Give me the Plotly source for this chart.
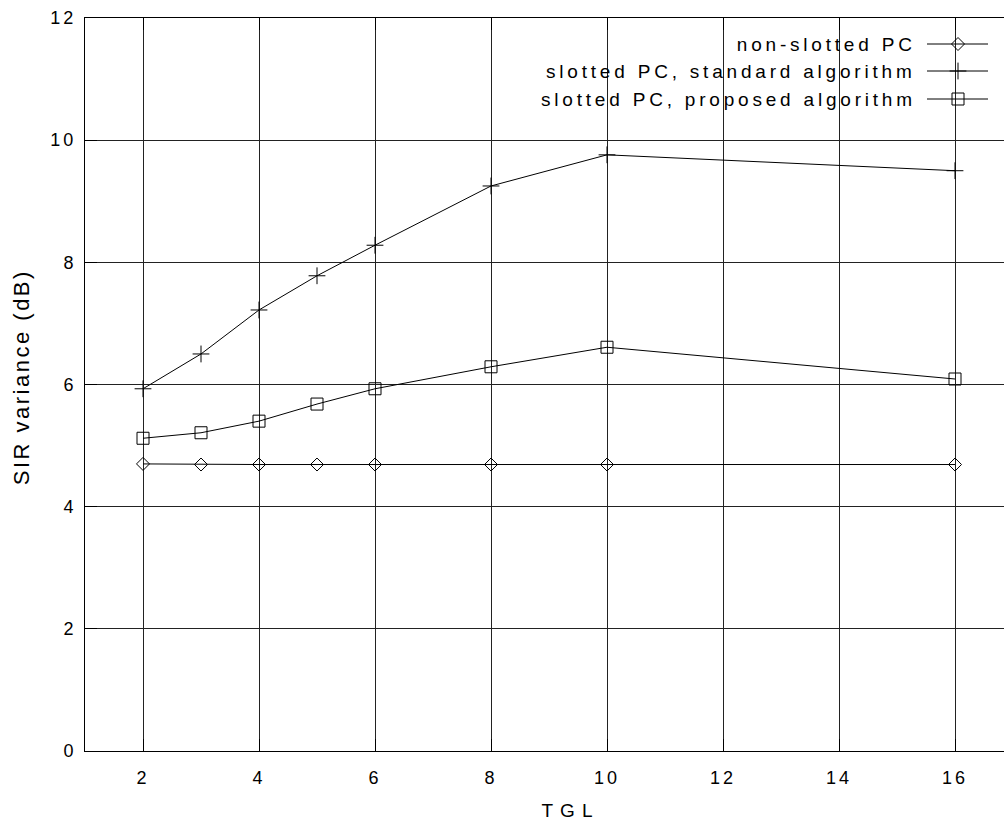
import plotly.graph_objects as go

# ---------------- data ----------------
tgl = [2, 3, 4, 5, 6, 8, 10, 16]
non_slotted = [4.70, 4.69, 4.69, 4.69, 4.69, 4.69, 4.69, 4.69]
standard_alg = [5.93, 6.50, 7.22, 7.78, 8.28, 9.25, 9.76, 9.50]
proposed_alg = [5.12, 5.21, 5.40, 5.68, 5.93, 6.29, 6.61, 6.09]

series_names = [
    "non-slotted PC",
    "slotted PC, standard algorithm",
    "slotted PC, proposed algorithm",
]
series_symbols = ["diamond-open", "cross-thin-open", "square-open"]
series_sizes = [10, 12, 12]

x_ticks = [2, 4, 6, 8, 10, 12, 14, 16]
y_ticks = [0, 2, 4, 6, 8, 10, 12]
x_title = "TGL"
y_title = "SIR variance (dB)"

# ---------------- layout constants (pixels) ----------------
W, H = 1004, 821
L, R, T, B = 85, 0, 18, 70
FONT = "Liberation Sans, Arial, Helvetica, sans-serif"
GRID = "#222222"

fig = go.Figure()

series_values = [non_slotted, standard_alg, proposed_alg]
for name, vals, sym, sz in zip(series_names, series_values, series_symbols, series_sizes):
    fig.add_trace(go.Scatter(
        x=tgl, y=vals, mode="lines+markers", name=name,
        line=dict(color="black", width=1),
        marker=dict(symbol=sym, size=sz, color="black",
                    line=dict(color="black", width=1)),
        showlegend=False, cliponaxis=False,
    ))

# ---- hand-built gnuplot-style legend (text left of key) on a pixel overlay axis ----
leg_text_right = 918
leg_line_x = [927, 988]
leg_marker_x = 958
leg_rows = [44, 71, 99]
for name, sym, sz, yr in zip(series_names, series_symbols, series_sizes, leg_rows):
    fig.add_trace(go.Scatter(
        x=leg_line_x, y=[yr, yr], mode="lines", xaxis="x2", yaxis="y2",
        line=dict(color="black", width=1), showlegend=False, hoverinfo="skip",
    ))
    fig.add_trace(go.Scatter(
        x=[leg_marker_x], y=[yr], mode="markers", xaxis="x2", yaxis="y2",
        marker=dict(symbol=sym, size=sz, color="black",
                    line=dict(color="black", width=1)),
        showlegend=False, hoverinfo="skip",
    ))
    fig.add_annotation(
        x=leg_text_right, y=yr, xref="x2", yref="y2", text=name,
        showarrow=False, xanchor="right", yanchor="middle", align="right",
        font=dict(family=FONT, size=19, color="black"),
    )

fig.add_annotation(x=(570 - L) / (W - L - R), y=-(810 - (H - B)) / (H - T - B),
                   xref="paper", yref="paper", text=x_title,
                   showarrow=False, xanchor="center", yanchor="middle",
                   font=dict(family=FONT, size=19, color="black"))
fig.add_annotation(x=-(L - 22) / (W - L - R), y=((H - B) - 377) / (H - T - B),
                   xref="paper", yref="paper", text=y_title,
                   showarrow=False, xanchor="center", yanchor="middle",
                   textangle=-90,
                   font=dict(family=FONT, size=22, color="black"))

fig.update_layout(
    width=W, height=H,
    margin=dict(l=L, r=R, t=T, b=B, pad=0),
    paper_bgcolor="white", plot_bgcolor="white",
    font=dict(family=FONT, size=18, color="black"),
    showlegend=False,
    xaxis=dict(
        range=[1, 1 + (W - L - R) / 58.0],
        tickmode="array", tickvals=x_ticks, ticktext=[str(v) for v in x_ticks],
        showgrid=True, gridcolor=GRID, gridwidth=1, zeroline=False,
        showline=True, linecolor="black", linewidth=1, mirror="allticks",
        ticks="inside", ticklen=12, tickcolor="black", tickwidth=1,
        tickfont=dict(family=FONT, size=18, color="black"),
        ticklabelstandoff=10,
    ),
    yaxis=dict(
        range=[0, 12],
        tickmode="array", tickvals=y_ticks, ticktext=[str(v) for v in y_ticks],
        showgrid=True, gridcolor=GRID, gridwidth=1, zeroline=False,
        showline=True, linecolor="black", linewidth=1, mirror=False,
        ticks="inside", ticklen=12, tickcolor="black", tickwidth=1,
        tickfont=dict(family=FONT, size=18, color="black"),
        ticklabelstandoff=4,
    ),
    xaxis2=dict(range=[L, W - R], overlaying="x", visible=False,
                showgrid=False, zeroline=False, fixedrange=True),
    yaxis2=dict(range=[H - B, T], overlaying="y", visible=False,
                showgrid=False, zeroline=False, fixedrange=True),
)

post = ("document.body.style.margin='0';"
        "document.querySelectorAll('svg text').forEach(function(t){"
        "var s=t.textContent, ls='3px';"
        "if(s.indexOf('PC')>=0){ls='3.8px';}"
        "else if(s==='TGL'){ls='7px';}"
        "else if(s.indexOf('SIR')>=0){ls='2.5px';}"
        "t.style.letterSpacing=ls;});")
fig.write_html("out.html", post_script=post, config={"displayModeBar": False})
